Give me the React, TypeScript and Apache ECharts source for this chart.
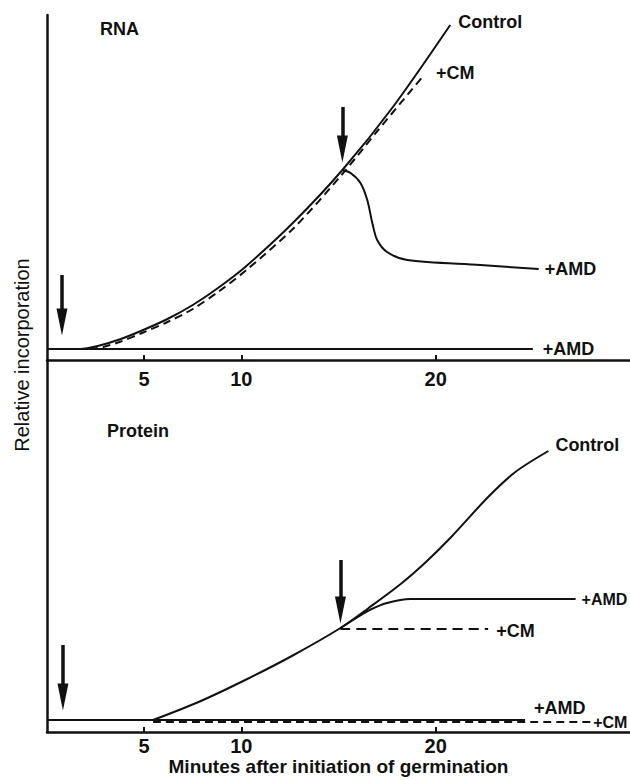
import React, { useEffect, useRef } from "react";
import * as echarts from "echarts";

const FONT = "Liberation Sans";
const INK = "#111";

// x axis (minutes after initiation of germination)
const xTickValues = [5, 10, 20];
const xTickLabels = ["5", "10", "20"];
const xTitle = "Minutes after initiation of germination";
const yTitle = "Relative incorporation";
const panelTitles = ["RNA", "Protein"];

// RNA panel
const rnaControl: [number, number][] = [
  [0, 1.1], [1.7, 1.1], [2.7, 1.45], [3.8, 2.1], [4.95, 3.0], [6.2, 4.1], [7.5, 5.5],
  [8.8, 7.2], [10.2, 9.3], [12.7, 13.8], [15.2, 19.0], [17.8, 25.3], [20.75, 33.5],
];
const rnaCM: [number, number][] = [
  [2.2, 1.1], [2.9, 1.3], [3.8, 1.85], [4.95, 2.75], [6.2, 3.8], [7.5, 5.1], [8.8, 6.8],
  [10.2, 8.9], [12.7, 13.2], [15.2, 18.6], [17.0, 22.9], [19.4, 28.5],
];
const rnaAMD: [number, number][] = [
  [15.2, 19.0], [15.62, 18.7], [16.13, 17.7], [16.48, 16.0], [16.74, 13.7],
  [16.99, 12.0], [17.5, 10.8], [18.54, 10.0], [22.3, 9.5], [25.3, 9.1],
];
const rnaAMDEarly: [number, number][] = [[0, 1.1], [25.0, 1.1]];
const rnaArrows: [number, number, number][] = [
  [0.77, 8.5, 3.8],
  [15.2, 25.3, 21.1],
];

// Protein panel
const protControl: [number, number][] = [
  [5.46, 1.2], [7.8, 3.0], [10.2, 5.2], [12.6, 7.6], [15.1, 10.4], [16.55, 12.4],
  [18.2, 14.8], [19.5, 17.0], [20.8, 19.5], [22.7, 23.5], [24.1, 26.0], [25.8, 28.1],
];
const protAMD: [number, number][] = [
  [15.1, 10.4], [16.0, 11.5], [16.6, 12.2], [17.5, 12.9], [18.7, 13.3], [27.2, 13.3],
];
const protCM: [number, number][] = [[15.1, 10.3], [22.7, 10.3]];
const protAMDEarly: [number, number][] = [[0, 1.2], [24.6, 1.2]];
const protCMEarly: [number, number][] = [[5.46, 1.0], [28.0, 1.0]];
const protArrows: [number, number, number][] = [
  [0.82, 8.7, 3.5],
  [15.1, 17.2, 12.2],
];

const labelControl = "Control";
const labelCM = "+CM";
const labelAMD = "+AMD";

function line(
  data: [number, number][],
  panel: number,
  label: string,
  opts: { dash?: number[]; distance?: number; offset?: number[]; size?: number } = {}
) {
  return {
    type: "line",
    name: label,
    data,
    xAxisIndex: panel,
    yAxisIndex: panel,
    showSymbol: false,
    symbol: "none",
    smooth: 0.3,
    silent: true,
    clip: false,
    lineStyle: { color: INK, width: 2, type: opts.dash ? opts.dash : "solid" },
    endLabel: {
      show: true,
      formatter: () => label,
      distance: opts.distance ?? 8,
      offset: opts.offset ?? [0, 0],
      fontSize: opts.size ?? 18,
      fontWeight: "bold",
      fontFamily: FONT,
      color: INK,
    },
  };
}

function arrows(list: [number, number, number][], panel: number) {
  return {
    type: "line",
    data: [],
    xAxisIndex: panel,
    yAxisIndex: panel,
    silent: true,
    markLine: {
      silent: true,
      symbol: ["none", "triangle"],
      symbolSize: [11, 27],
      label: { show: false },
      lineStyle: { color: INK, width: 3.5, type: "solid" },
      data: list.map(([t, a, b]) => [{ coord: [t, a] }, { coord: [t, b] }]),
    },
  };
}

function xAxis(panel: number, margin: number, withName: boolean) {
  return {
    gridIndex: panel,
    type: "value",
    min: 0,
    max: 30,
    axisLine: { show: true, onZero: false, lineStyle: { color: INK, width: 2.5 } },
    axisTick: {
      show: true,
      inside: true,
      length: 5,
      customValues: xTickValues,
      lineStyle: { color: INK, width: 2 },
    },
    axisLabel: {
      customValues: xTickValues,
      formatter: (v: number) => xTickLabels[xTickValues.indexOf(v)] ?? "",
      margin,
      fontSize: 20,
      fontWeight: "bold",
      fontFamily: FONT,
      color: INK,
    },
    splitLine: { show: false },
    ...(withName
      ? {
          name: xTitle,
          nameLocation: "middle",
          nameGap: 25,
          nameTextStyle: { fontSize: 19, fontWeight: "bold", fontFamily: FONT, color: INK },
        }
      : {}),
  };
}

function yAxis(panel: number, max: number) {
  return {
    gridIndex: panel,
    type: "value",
    min: 0,
    max,
    axisLine: { show: true, onZero: false, lineStyle: { color: INK, width: 2.5 } },
    axisTick: { show: false },
    axisLabel: { show: false },
    splitLine: { show: false },
  };
}

export default function App() {
  const ref = useRef<HTMLDivElement>(null);
  useEffect(() => {
    if (!ref.current) return;
    const chart = echarts.init(ref.current, undefined, { renderer: "svg" });
    chart.setOption({
      animation: false,
      backgroundColor: "#fff",
      grid: [
        { left: 47, right: 0, top: 15, height: 345 },
        { left: 47, right: 0, top: 360, height: 372 },
      ],
      xAxis: [xAxis(0, 9, false), xAxis(1, 4, true)],
      yAxis: [yAxis(0, 34.5), yAxis(1, 37.2)],
      graphic: [
        {
          type: "text",
          x: 100,
          y: 20,
          style: { text: panelTitles[0], fontSize: 18, fontWeight: "bold", fontFamily: FONT, fill: INK, verticalAlign: "top" },
        },
        {
          type: "text",
          x: 107,
          y: 422,
          style: { text: panelTitles[1], fontSize: 18, fontWeight: "bold", fontFamily: FONT, fill: INK, verticalAlign: "top" },
        },
        {
          type: "text",
          x: 22,
          y: 355,
          rotation: Math.PI / 2,
          style: {
            text: yTitle,
            fontSize: 20,
            fontFamily: FONT,
            fill: INK,
            align: "center",
            verticalAlign: "middle",
          },
        },
      ],
      series: [
        line(rnaAMDEarly, 0, labelAMD, { distance: 10 }),
        line(rnaControl, 0, labelControl, { distance: 8, offset: [0, -3] }),
        line(rnaCM, 0, labelCM, { dash: [8, 5], distance: 12, offset: [0, -2] }),
        line(rnaAMD, 0, labelAMD, { distance: 6 }),
        arrows(rnaArrows, 0),
        line(protAMDEarly, 1, labelAMD, { distance: 9, offset: [0, -12] }),
        line(protCMEarly, 1, labelCM, { dash: [8, 5], distance: 2, size: 16 }),
        line(protControl, 1, labelControl, { distance: 7, offset: [0, -6] }),
        line(protAMD, 1, labelAMD, { distance: 6, size: 16 }),
        line(protCM, 1, labelCM, { dash: [10, 6], distance: 8, offset: [0, 2] }),
        arrows(protArrows, 1),
      ],
    });
    return () => chart.dispose();
  }, []);
  return (
    <div
      ref={ref}
      style={{ position: "absolute", left: 0, top: 0, width: 630, height: 780, background: "#fff" }}
    />
  );
}
